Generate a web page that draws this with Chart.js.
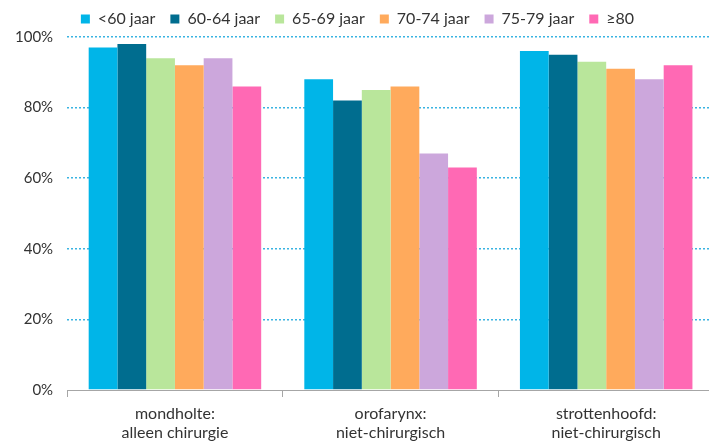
<!DOCTYPE html>
<html>
<head>
<meta charset="utf-8">
<script src="https://cdn.jsdelivr.net/npm/chart.js@4/dist/chart.umd.min.js"></script>
<style>
  html, body { margin: 0; padding: 0; background: #fff; overflow: hidden; }
  #wrap { width: 714px; height: 443px; }
</style>
</head>
<body>
<div id="wrap"><canvas id="chart"></canvas></div>
<script>
  // Categorieën en percentages per leeftijdsgroep
  const categories = [
    ["mondholte:", "alleen chirurgie"],
    ["orofarynx:", "niet-chirurgisch"],
    ["strottenhoofd:", "niet-chirurgisch"],
  ];
  const ageGroups = ["<60 jaar", "60-64 jaar", "65-69 jaar", "70-74 jaar", "75-79 jaar", "≥80"];
  const under60   = [97, 88, 96];
  const age60_64  = [98, 82, 95];
  const age65_69  = [94, 85, 93];
  const age70_74  = [92, 86, 91];
  const age75_79  = [94, 67, 88];
  const age80plus = [86, 63, 92];
  const yTicks = [0, 20, 40, 60, 80, 100];

  const colors = ["#00b5e8", "#006d8f", "#b9e69b", "#ffaa5c", "#cca7dc", "#ff69b4"];
  const series = [under60, age60_64, age65_69, age70_74, age75_79, age80plus];

  const FONT = "Lato, 'Open Sans', sans-serif";
  const TEXT = "#333";

  new Chart(document.getElementById("chart"), {
    type: "bar",
    data: {
      labels: categories,
      datasets: series.map((data, i) => ({
        label: ageGroups[i],
        data,
        backgroundColor: colors[i],
        borderWidth: 0,
        barPercentage: 1,
        categoryPercentage: 0.8,
      })),
    },
    options: {
      responsive: true,
      maintainAspectRatio: false,
      animation: false,
      layout: { padding: { left: 1, top: -4, right: 0, bottom: -6 } },
      plugins: {
        tooltip: { enabled: false },
        legend: {
          position: "top",
          labels: {
            boxWidth: 9,
            boxHeight: 9,
            padding: 15,
            color: TEXT,
            font: { family: FONT, size: 16 },
          },
        },
      },
      scales: {
        x: {
          grid: {
            display: true,
            drawOnChartArea: false,
            drawTicks: true,
            tickLength: 7,
            color: "#a6a6a6",
          },
          border: { display: true, color: "#a6a6a6", width: 1 },
          ticks: {
            color: TEXT,
            font: { family: FONT, size: 16, lineHeight: "19px" },
            padding: 7,
            maxRotation: 0,
          },
        },
        y: {
          min: 0,
          max: 100,
          afterBuildTicks: (axis) => { axis.ticks = yTicks.map((v) => ({ value: v })); },
          grid: {
            drawTicks: false,
            lineWidth: 1.5,
            color: (ctx) => (ctx.tick && ctx.tick.value === 0 ? "rgba(0,0,0,0)" : "#3ab4e2"),
          },
          border: { display: false, dash: [2, 2] },
          ticks: {
            color: TEXT,
            font: { family: FONT, size: 15 },
            padding: 14,
            callback: (v) => v + "%",
          },
        },
      },
    },
  });
</script>
</body>
</html>
